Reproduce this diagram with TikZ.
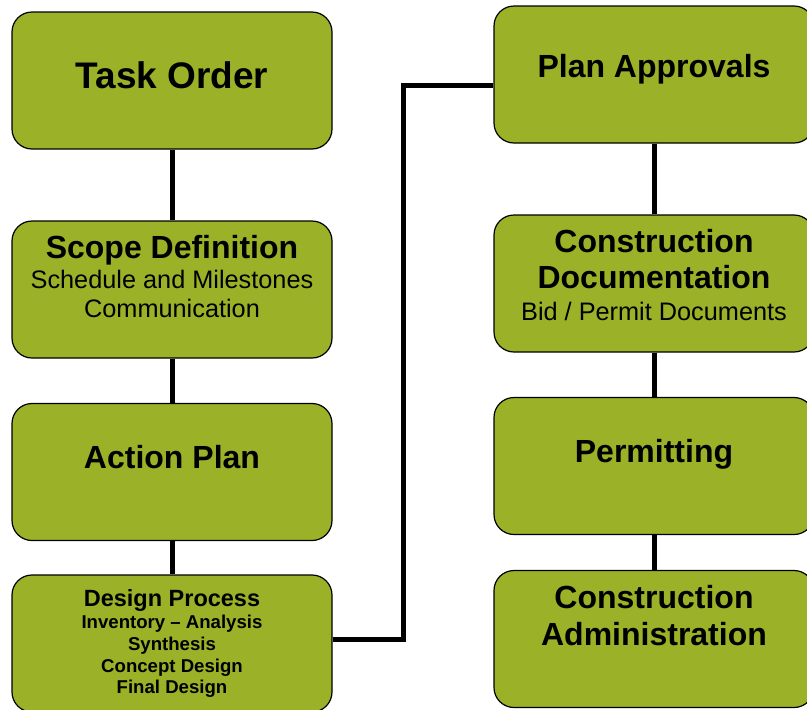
\documentclass[tikz,border=0pt]{standalone}
\usepackage{fontspec}
\setmainfont{Liberation Sans}
\usepackage{tikz}
\definecolor{stageGreen}{RGB}{155,177,39}

\begin{document}
\begin{tikzpicture}[x=1pt, y=-1pt,
    stage/.style={draw=black, line width=1.2pt, fill=stageGreen, rounded corners=20pt,
        minimum width=320pt, minimum height=137pt, inner sep=0pt},
    head/.style={anchor=base, inner sep=0pt, font=\fontsize{32}{36}\selectfont\bfseries},
    note/.style={anchor=base, inner sep=0pt, font=\fontsize{25.3}{29}\selectfont},
    small/.style={anchor=base, inner sep=0pt, font=\fontsize{18.6}{21}\selectfont\bfseries},
    link/.style={line width=5pt}]
    \useasboundingbox (0,0) rectangle (807,710);

    % Left column
    \node[stage] (task) at (172,80.5) {};
    \node[stage] (scope) at (172,289.5) {};
    \node[stage] (action) at (172,472) {};
    \node[stage] (design) at (172,643.5) {};

    % Right column
    \node[stage] (approvals) at (654,74.5) {};
    \node[stage] (docs) at (654,283.5) {};
    \node[stage] (permit) at (654,466) {};
    \node[stage] (admin) at (654,639) {};

    % Connectors
    \draw[link] (task.south) -- (scope.north);
    \draw[link] (scope.south) -- (action.north);
    \draw[link] (action.south) -- (design.north);
    \coordinate (bend) at (403,639);
    \draw[link] ([yshift=4.5pt]design.east) -- (bend) |- ([yshift=-11pt]approvals.west);
    \draw[link] (approvals.south) -- (docs.north);
    \draw[link] (docs.south) -- (permit.north);
    \draw[link] (permit.south) -- (admin.north);

    % Labels
    \node[head, font=\fontsize{37}{40}\selectfont\bfseries] (taskT) at (172,88) {Task Order};
    \node[head] (scopeT) at (172,258) {Scope Definition};
    \node[note] (scopeA) at (172,288) {Schedule and Milestones};
    \node[note] (scopeB) at (172,317) {Communication};
    \node[head] (actionT) at (172,468) {Action Plan};
    \node[small, font=\fontsize{23.5}{26}\selectfont\bfseries] (designT) at (172,606) {Design Process};
    \foreach \txt/\yy/\nm in {Inventory -- Analysis/628/A, Synthesis/650/B,
        Concept Design/672/C, Final Design/693/D}
        \node[small] (design\nm) at (172,\yy) {\txt};

    \node[head] (approvalsT) at (654,77) {Plan Approvals};
    \node[head] (docsT) at (654,252) {Construction};
    \node[head] (docsU) at (654,288) {Documentation};
    \node[note] (docsA) at (654,320) {Bid / Permit Documents};
    \node[head] (permitT) at (654,462) {Permitting};
    \node[head] (adminT) at (654,608) {Construction};
    \node[head] (adminU) at (654,645) {Administration};
\end{tikzpicture}
\end{document}
